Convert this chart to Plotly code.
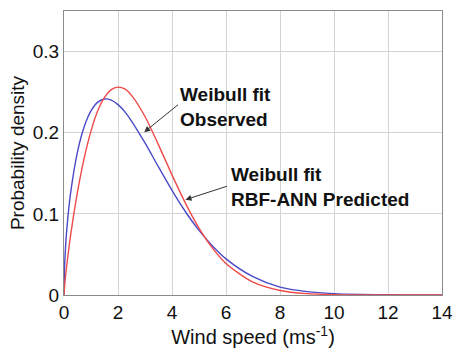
import plotly.graph_objects as go

wind_speed = [0, 0.02, 0.05, 0.1, 0.25, 0.5, 0.75, 1.0, 1.25, 1.5, 1.75, 2.0, 2.25, 2.5, 3.0, 3.5,
              4.0, 4.5, 5.0, 5.5, 6.0, 7.0, 8.0, 9.0, 10.0, 11.0, 12.0, 13.0, 14.0]
observed_fit = [0, 0.010, 0.021, 0.036, 0.075, 0.127, 0.169, 0.202, 0.227, 0.2435, 0.2532, 0.2562, 0.2540,
                0.246, 0.220, 0.185, 0.148, 0.113, 0.0825, 0.0578, 0.0389, 0.0158, 0.0056, 0.0017,
                0.00046, 0.0001, 0.00002, 0.0, 0.0]
predicted_fit = [0, 0.034, 0.055, 0.0795, 0.127, 0.1765, 0.2076, 0.227, 0.2377, 0.2416, 0.2402, 0.2346, 0.2260,
                 0.2144, 0.1874, 0.1578, 0.129, 0.1026, 0.0796, 0.0604, 0.0445, 0.0225, 0.0097, 0.0042,
                 0.0017, 0.0007, 0.00025, 0.0001, 0.00003]

x_ticks = [0, 2, 4, 6, 8, 10, 12, 14]
y_ticks = [0, 0.1, 0.2, 0.3]
y_tick_labels = ["0", "0.1", "0.2", "0.3"]

FONT = "Liberation Sans, Arial, sans-serif"

fig = go.Figure()
fig.add_trace(go.Scatter(x=wind_speed, y=predicted_fit, mode="lines",
                         line=dict(color="#4a4ac8", width=1.4, shape="spline", smoothing=0.8),
                         name="Weibull fit RBF-ANN Predicted"))
fig.add_trace(go.Scatter(x=wind_speed, y=observed_fit, mode="lines",
                         line=dict(color="#f04a4a", width=1.4, shape="spline", smoothing=0.8),
                         name="Weibull fit Observed"))

axis_common = dict(showgrid=True, gridcolor="#d4d4d4", gridwidth=1, zeroline=False,
                   showline=True, linecolor="#8a8a8a", linewidth=1, mirror=True,
                   ticks="", tickfont=dict(family=FONT, size=19, color="#111"))

fig.update_xaxes(range=[0, 14], tickvals=x_ticks, **axis_common,
                 title=dict(text="Wind speed (ms<sup>-1</sup>)", font=dict(family=FONT, size=20, color="#111"),
                            standoff=5))
fig.update_yaxes(range=[0, 0.35], tickvals=y_ticks, ticktext=y_tick_labels, **axis_common,
                 title=dict(text="Probability density", font=dict(family=FONT, size=19, color="#111"),
                            standoff=3))

ann_font = dict(family=FONT, size=19, color="#111")
fig.add_annotation(x=4.22, y=0.263, xref="x", yref="y", text="<b>Weibull fit<br>Observed</b>",
                   showarrow=False, xanchor="left", yanchor="top", align="left", font=ann_font)
fig.add_annotation(x=6.11, y=0.1635, xref="x", yref="y", text="<b>Weibull fit<br>RBF-ANN Predicted</b>",
                   showarrow=False, xanchor="left", yanchor="top", align="left", font=ann_font)
fig.add_annotation(x=2.97, y=0.2007, ax=4.28, ay=0.236, xref="x", yref="y", axref="x", ayref="y",
                   text="", showarrow=True, arrowhead=2, arrowsize=1.2, arrowwidth=1, arrowcolor="#333")
fig.add_annotation(x=4.50, y=0.1175, ax=6.09, ay=0.1346, xref="x", yref="y", axref="x", ayref="y",
                   text="", showarrow=True, arrowhead=2, arrowsize=1.2, arrowwidth=1, arrowcolor="#333")

fig.update_layout(width=463, height=352, margin=dict(l=64, r=13, t=10, b=56),
                  paper_bgcolor="white", plot_bgcolor="white", showlegend=False)

fig.write_html("out.html")
